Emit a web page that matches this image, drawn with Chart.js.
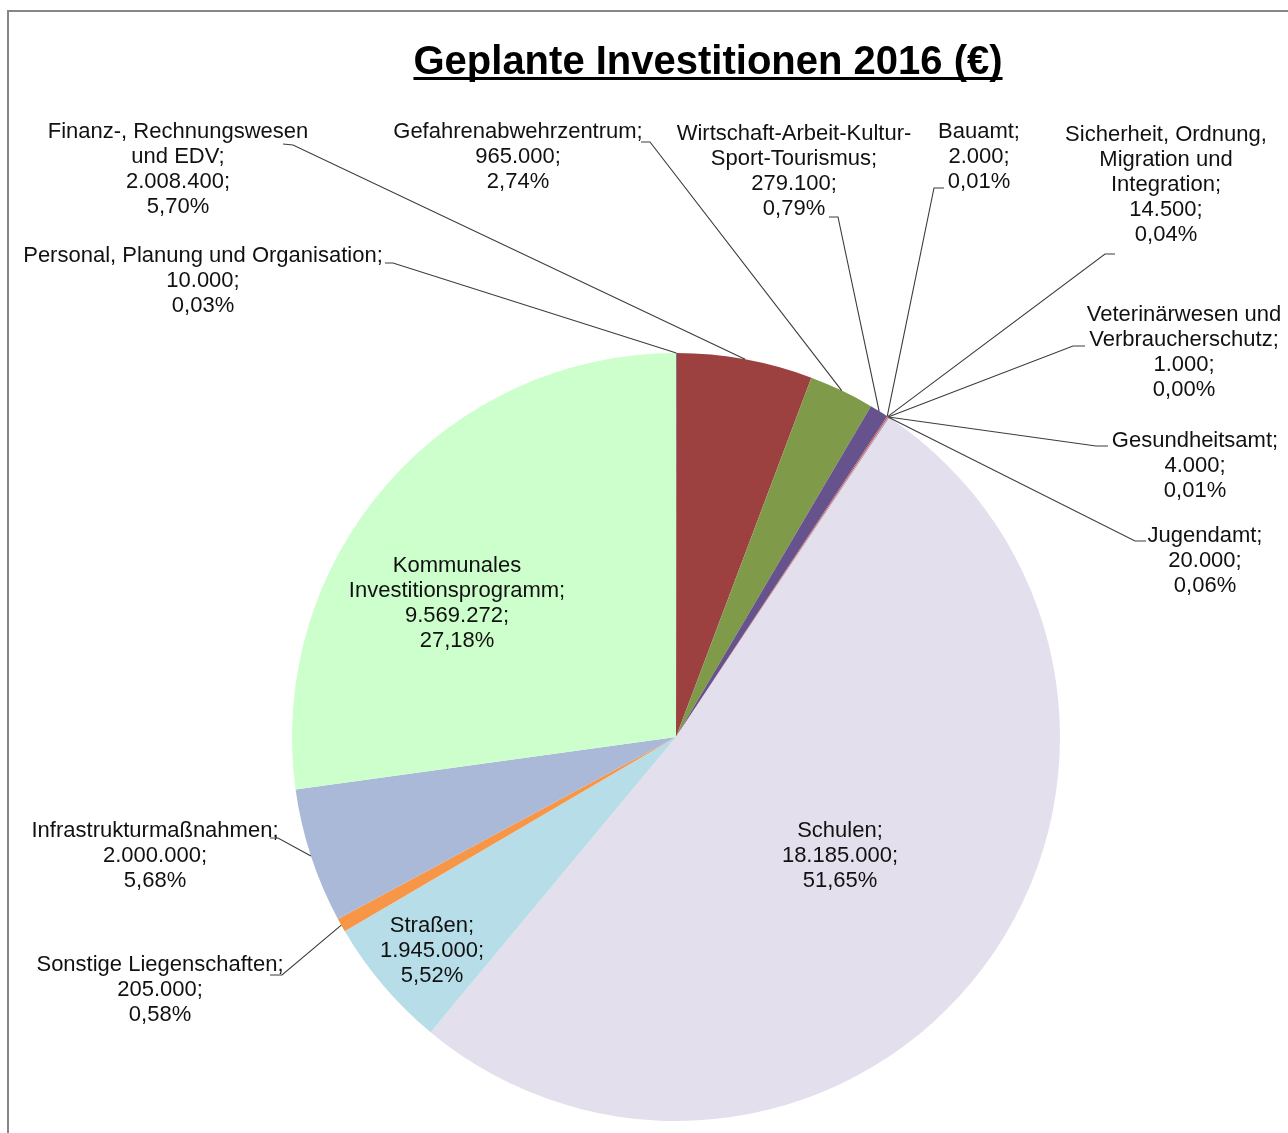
<!DOCTYPE html>
<html><head><meta charset="utf-8">
<script src="https://cdn.jsdelivr.net/npm/chart.js@4/dist/chart.umd.min.js"></script>
<style>html,body{margin:0;padding:0;background:#fff;overflow:hidden}#wrap{position:relative;width:1288px;height:1133px}</style>
</head><body><div id="wrap"><canvas id="c" width="1288" height="1133"></canvas></div>
<script>
const chartTitle = "Geplante Investitionen 2016 (€)";
const categories = [
  ["Personal, Planung und Organisation"],
  ["Finanz-, Rechnungswesen", "und EDV"],
  ["Gefahrenabwehrzentrum"],
  ["Wirtschaft-Arbeit-Kultur-", "Sport-Tourismus"],
  ["Bauamt"],
  ["Sicherheit, Ordnung,", "Migration und", "Integration"],
  ["Veterinärwesen und", "Verbraucherschutz"],
  ["Gesundheitsamt"],
  ["Jugendamt"],
  ["Schulen"],
  ["Straßen"],
  ["Sonstige Liegenschaften"],
  ["Infrastrukturmaßnahmen"],
  ["Kommunales", "Investitionsprogramm"]
];
const values = [10000, 2008400, 965000, 279100, 2000, 14500, 1000, 4000, 20000, 18185000, 1945000, 205000, 2000000, 9569272];
const colors = ["#376092", "#9C4140", "#7F9B4A", "#66528C", "#D9954F", "#C0504D", "#9BBB59", "#E46C0A", "#B3A2C7", "#E4DFEC", "#B7DEE8", "#F79646", "#AAB9D8", "#CCFFCC"];

// label placement (centre x, first line centre y, leader elbow points)
const labelLayout = [
  {x:203, y:256, leader:[[393,263],[385,263]]},
  {x:178, y:132, leader:[[293,145],[283,144]]},
  {x:518, y:132, leader:[[650,142],[641,142]]},
  {x:794, y:134, leader:[[838,217],[829,217]]},
  {x:979, y:132, leader:[[934,188],[944,188]]},
  {x:1166, y:135, leader:[[1105,254],[1115,254]]},
  {x:1184, y:315, leader:[[1073,346],[1085,346]]},
  {x:1195, y:441, leader:[[1096,446],[1108,446]]},
  {x:1205, y:536, leader:[[1135,541],[1146,541]]},
  {x:840, y:831, leader:null},
  {x:432, y:926, leader:null},
  {x:160, y:965, leader:[[282,975],[270,975]]},
  {x:155, y:831, leader:[[278,838],[270,838]]},
  {x:457, y:566, leader:null}
];

function fmtNum(v){ return String(v).replace(/\B(?=(\d{3})+(?!\d))/g, "."); }
const total = values.reduce((a,b)=>a+b,0);
function fmtPct(v){ return (v/total*100).toFixed(2).replace(".", ",") + "%"; }

const FONT = '"Liberation Sans", Arial, sans-serif';

const framePlugin = {
  id:'frame',
  beforeDraw(chart){
    const ctx = chart.ctx;
    ctx.save();
    ctx.fillStyle = '#fff';
    ctx.fillRect(0,0,chart.width,chart.height);
    ctx.strokeStyle = '#868686';
    ctx.lineWidth = 2;
    ctx.beginPath();
    ctx.moveTo(8, chart.height+5);
    ctx.lineTo(8, 11);
    ctx.lineTo(chart.width+5, 11);
    ctx.stroke();
    // title
    ctx.fillStyle = '#000';
    ctx.font = 'bold 40px ' + FONT;
    ctx.textAlign = 'center';
    ctx.textBaseline = 'alphabetic';
    const cx = 708, by = 74;
    ctx.fillText(chartTitle, cx, by);
    const w = ctx.measureText(chartTitle).width;
    ctx.fillRect(cx - w/2, 77, w, 3);
    ctx.restore();
  }
};

const labelPlugin = {
  id:'sliceLabels',
  afterDatasetsDraw(chart){
    const ctx = chart.ctx;
    const meta = chart.getDatasetMeta(0);
    ctx.save();
    meta.data.forEach((arc, i) => {
      const p = arc.getProps(['x','y','startAngle','endAngle','outerRadius'], true);
      const mid = (p.startAngle + p.endAngle)/2;
      const ex = p.x + Math.cos(mid)*p.outerRadius;
      const ey = p.y + Math.sin(mid)*p.outerRadius;
      const L = labelLayout[i];
      if (L.leader){
        ctx.strokeStyle = '#3c3c3c';
        ctx.lineWidth = 1.1;
        ctx.beginPath();
        ctx.moveTo(ex, ey);
        L.leader.forEach(pt => ctx.lineTo(pt[0], pt[1]));
        ctx.stroke();
      }
      const name = categories[i].slice();
      name[name.length-1] += ';';
      const lines = name.concat([fmtNum(values[i]) + ';', fmtPct(values[i])]);
      ctx.fillStyle = '#111';
      ctx.font = '22px ' + FONT;
      ctx.textAlign = 'center';
      ctx.textBaseline = 'middle';
      lines.forEach((t, k) => ctx.fillText(t, L.x, L.y + k*25));
    });
    ctx.restore();
  }
};

new Chart(document.getElementById('c'), {
  type:'pie',
  data:{
    labels: categories,
    datasets:[{ data: values, backgroundColor: colors, borderWidth: 0 }]
  },
  options:{
    responsive:false,
    animation:false,
    devicePixelRatio:1,
    layout:{ padding:{ left:292, top:353, right:228, bottom:12 } },
    plugins:{ legend:{display:false}, title:{display:false}, tooltip:{enabled:false} },
    events:[]
  },
  plugins:[framePlugin, labelPlugin]
});
</script></body></html>
